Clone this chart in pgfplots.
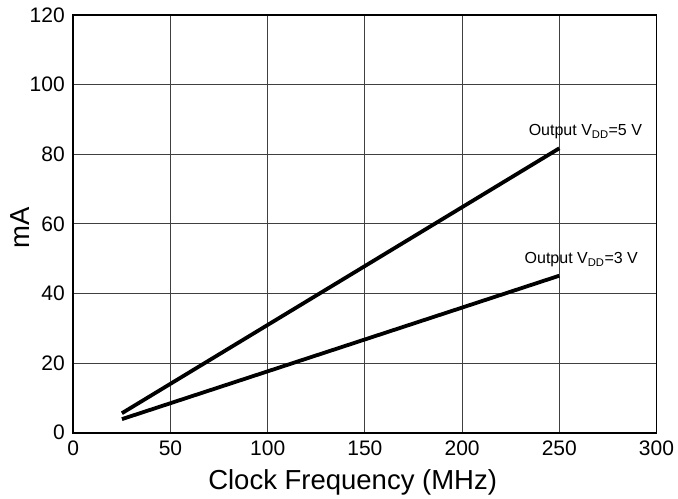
\documentclass[border=0pt]{standalone}
\usepackage{pgfplots}
\pgfplotsset{compat=1.18}
\usepackage{fontspec}
\setmainfont{Liberation Sans}
\begin{document}
\begin{tikzpicture}
\begin{axis}[
    name=ax,
    scale only axis,
    width=583.2pt, height=417.7pt,
    xmin=0, xmax=300, ymin=0, ymax=120,
    xtick={0,50,...,300}, ytick={0,20,...,120},
    major tick length=0pt,
    grid=major,
    grid style={line width=0.9pt, color=black!75},
    axis line style={line width=1.6pt},
    /pgf/number format/assume math mode=true,
    tick label style={font=\fontsize{21}{25}\selectfont},
    xticklabel style={yshift=-5pt},
    yticklabel style={xshift=-5pt},
    xlabel={Clock Frequency (MHz)},
    ylabel={mA},
    label style={font=\fontsize{27.5}{32}\selectfont},
    xlabel style={at={(axis description cs:0.479,-0.1355)}, anchor=base},
    ylabel style={at={(axis description cs:-0.0755,0.49)}, anchor=base},
    clip=false,
]
\addplot[line width=3.8pt, black] coordinates {(25,5.6) (250,81.7)};
\addplot[line width=3.8pt, black] coordinates {(25,3.9) (250,45.1)};
\node[anchor=base west, inner sep=0pt, font=\fontsize{16}{19}\selectfont]
    at (axis cs:234.2,85.3) {Output V\textsubscript{DD}=5 V};
\node[anchor=base west, inner sep=0pt, font=\fontsize{16}{19}\selectfont]
    at (axis cs:232.1,48.5) {Output V\textsubscript{DD}=3 V};
\end{axis}
\path ([shift={(-73.3pt,-65.3pt)}]ax.south west) rectangle ([shift={(604.7pt,432.7pt)}]ax.south west);
\end{tikzpicture}
\end{document}
